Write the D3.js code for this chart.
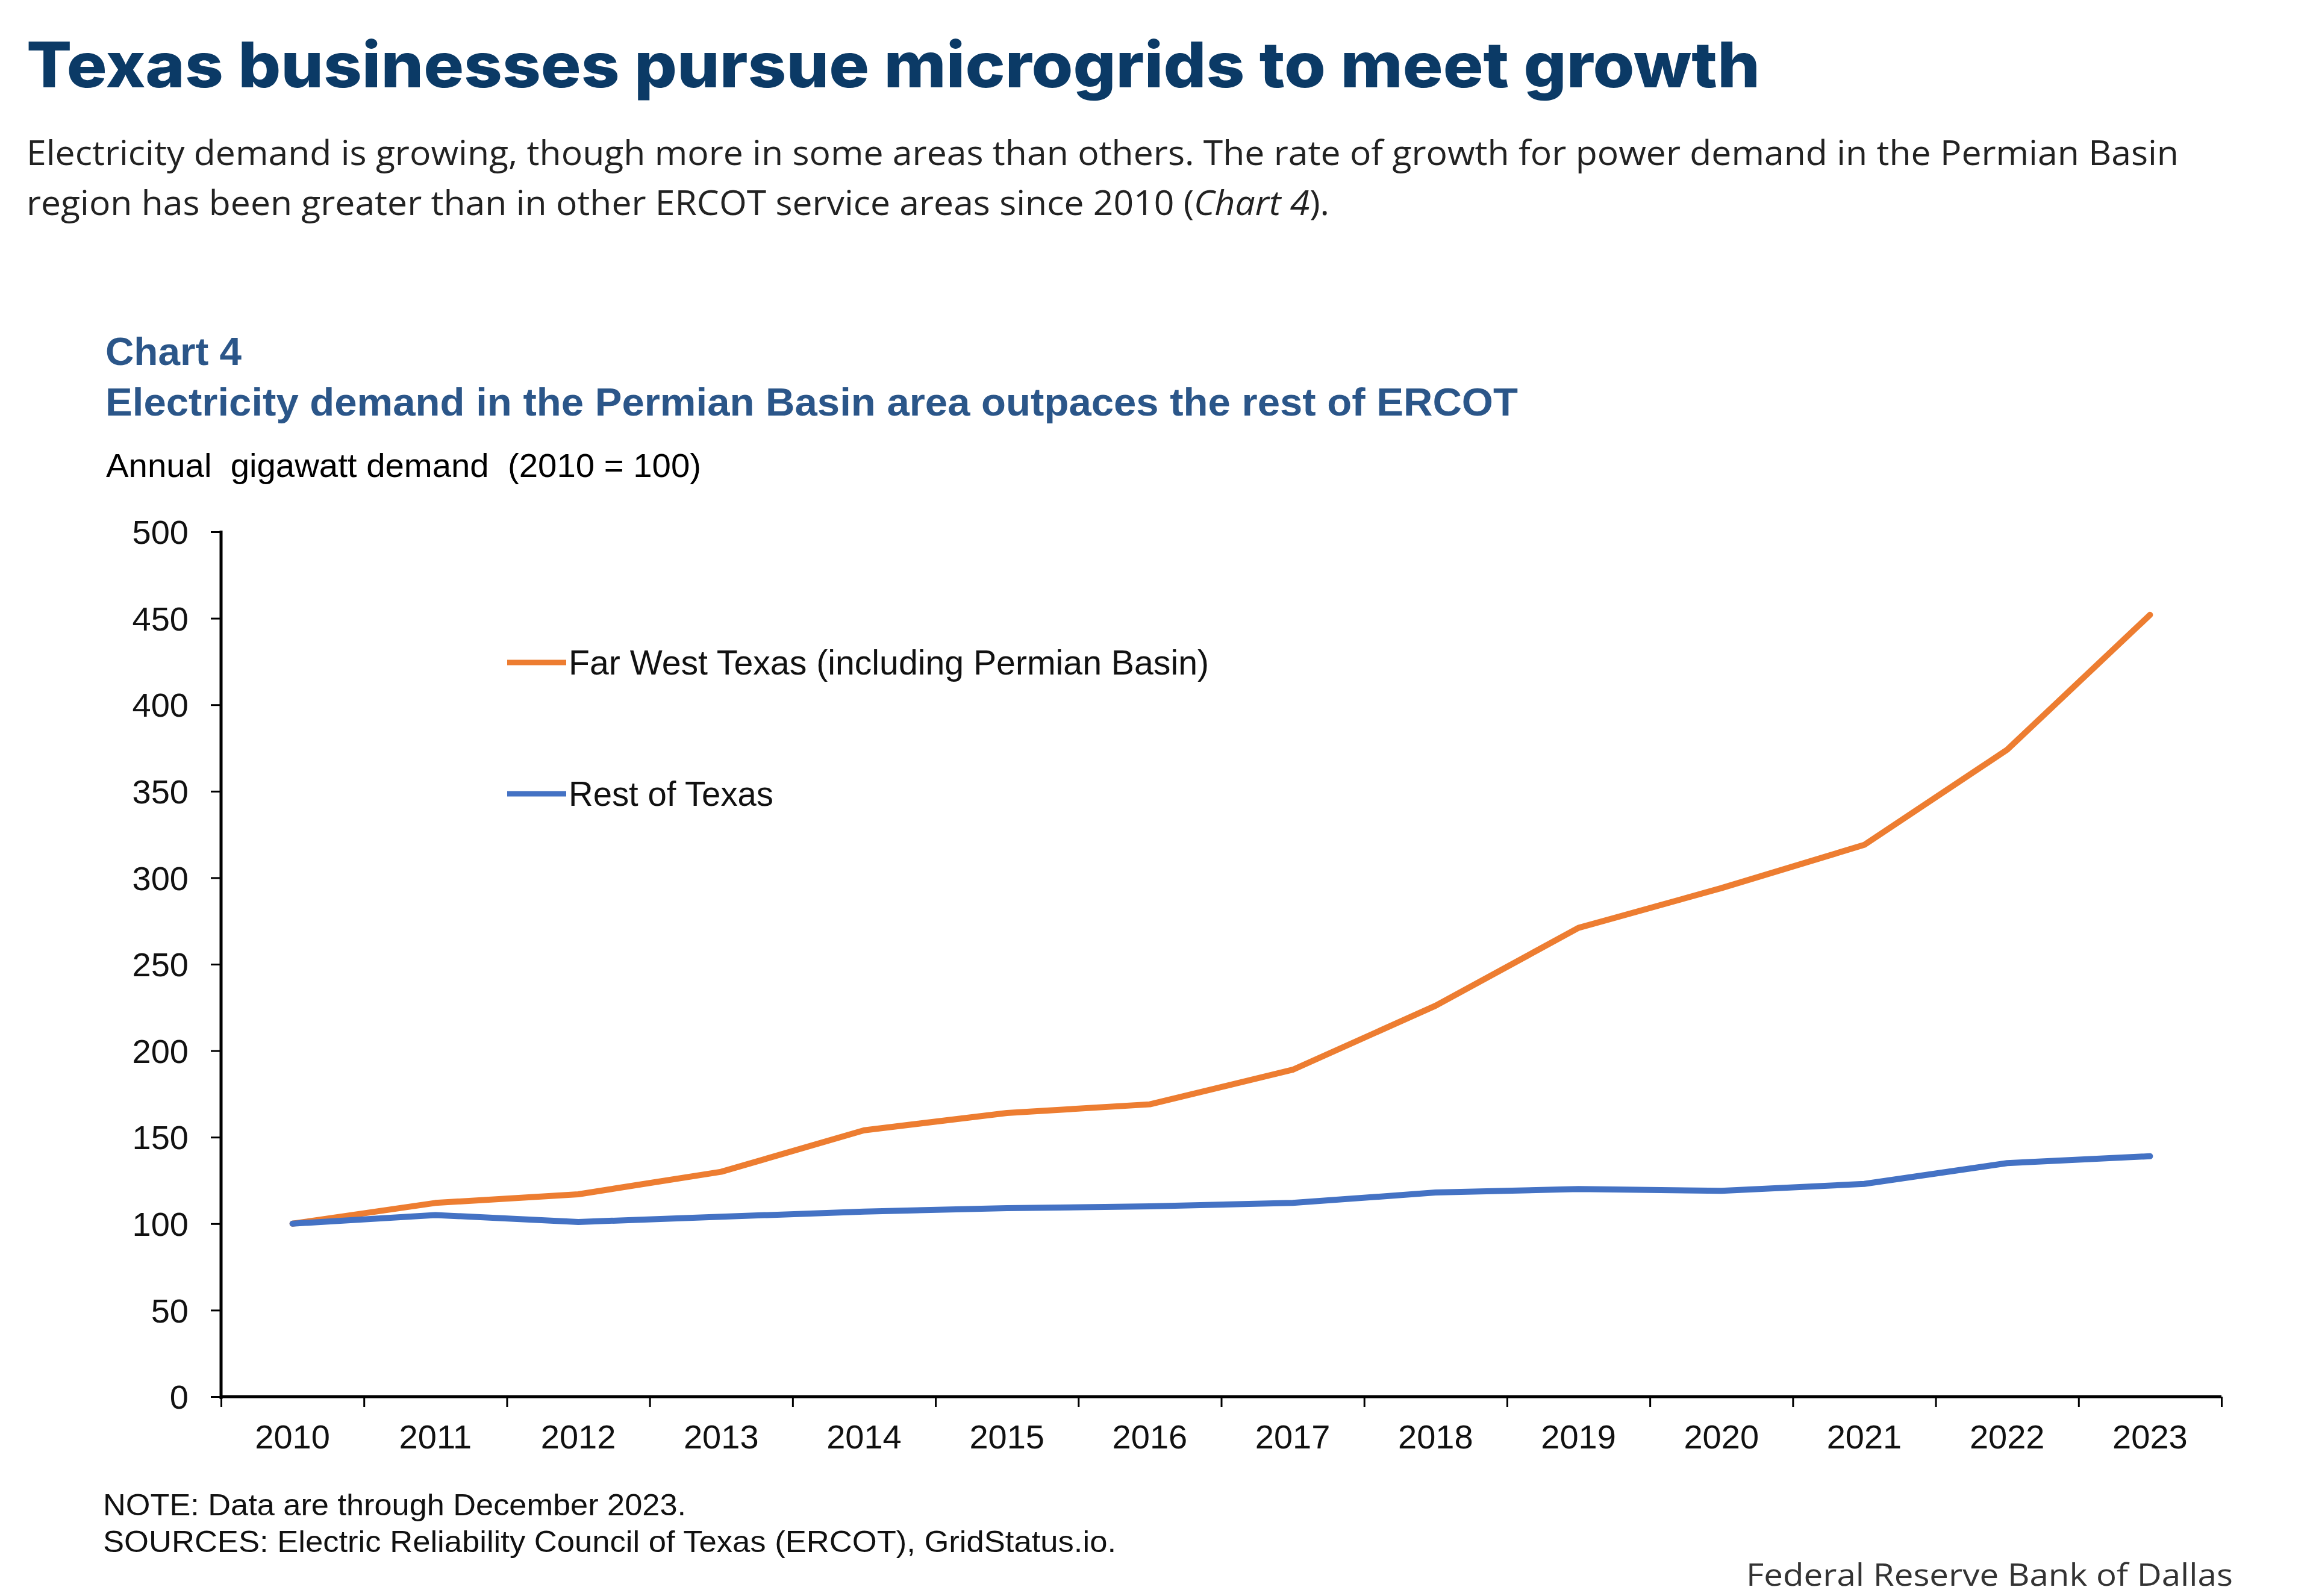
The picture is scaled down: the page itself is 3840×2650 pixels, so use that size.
<!DOCTYPE html>
<html>
<head>
<meta charset="utf-8">
<script src="https://cdn.jsdelivr.net/npm/d3@7"></script>
<style>
  html, body { margin: 0; padding: 0; background: #ffffff; }
  svg { display: block; }
  text { white-space: pre; }
</style>
</head>
<body>
<script>
// ---- Data ----
const years = ["2010","2011","2012","2013","2014","2015","2016","2017","2018","2019","2020","2021","2022","2023"];
const farWest = [100, 112, 117, 130, 154, 164, 169, 189, 226, 271, 294, 319, 374, 452];
const restOfTexas = [100, 105, 101, 104, 107, 109, 110, 112, 118, 120, 119, 123, 135, 139];
const yTicks = [0, 50, 100, 150, 200, 250, 300, 350, 400, 450, 500];
const seriesNames = ["Far West Texas (including Permian Basin)", "Rest of Texas"];
const seriesColors = ["#ED7D31", "#4472C4"];

const W = 3840, H = 2650;
const svg = d3.select("body").append("svg").attr("width", W).attr("height", H);
svg.append("rect").attr("width", W).attr("height", H).attr("fill", "#fff");

function fit(sel, w) {
  const n = sel.node();
  const cur = n.getComputedTextLength();
  if (Math.abs(cur - w) / w > 0.003) sel.attr("textLength", w).attr("lengthAdjust", "spacingAndGlyphs");
  return sel;
}

// ---- Header ----
fit(svg.append("text").attr("x", 44).attr("y", 145)
  .attr("font-family", "Inter, 'Open Sans', sans-serif").attr("font-weight", 800)
  .attr("font-size", 104).attr("fill", "#0B3A66")
  .text("Texas businesses pursue microgrids to meet growth"), 2878);

fit(svg.append("text").attr("x", 44).attr("y", 274)
  .attr("font-family", "'Open Sans', sans-serif").attr("font-size", 57).attr("fill", "#222")
  .text("Electricity demand is growing, though more in some areas than others. The rate of growth for power demand in the Permian Basin"), 3573);

const p2 = svg.append("text").attr("x", 44).attr("y", 357)
  .attr("font-family", "'Open Sans', sans-serif").attr("font-size", 57).attr("fill", "#222");
p2.append("tspan").text("region has been greater than in other ERCOT service areas since 2010 (");
p2.append("tspan").attr("font-style", "italic").text("Chart 4");
p2.append("tspan").text(").");
fit(p2, 2163);

// ---- Chart titles ----
fit(svg.append("text").attr("x", 175).attr("y", 606)
  .attr("font-family", "'Liberation Sans', Arial, sans-serif").attr("font-weight", 700)
  .attr("font-size", 64).attr("fill", "#2B5689").text("Chart 4"), 226);

fit(svg.append("text").attr("x", 175).attr("y", 690)
  .attr("font-family", "'Liberation Sans', Arial, sans-serif").attr("font-weight", 700)
  .attr("font-size", 64).attr("fill", "#2B5689")
  .text("Electricity demand in the Permian Basin area outpaces the rest of ERCOT"), 2345);

fit(svg.append("text").attr("x", 176).attr("y", 792)
  .attr("font-family", "'Liberation Sans', Arial, sans-serif")
  .attr("font-size", 56).attr("fill", "#000")
  .text("Annual  gigawatt demand  (2010 = 100)"), 988);

// ---- Scales ----
const x0 = 367, x1 = 3688, yTop = 883, yBot = 2319;
const x = d3.scaleBand().domain(years).range([x0, x1]).padding(0);
const xEdge = d3.scaleLinear().domain([0, years.length]).range([x0, x1]);
const y = d3.scaleLinear().domain([0, 500]).range([yBot, yTop]);

// Y axis
const yAxis = svg.append("g").attr("transform", `translate(${x0},0)`)
  .call(d3.axisLeft(y).tickValues(yTicks).tickSize(17).tickPadding(37));
yAxis.select(".domain").remove();
yAxis.selectAll(".tick line").attr("stroke", "#000").attr("stroke-width", 3);
yAxis.selectAll(".tick text").attr("font-family", "'Liberation Sans', Arial, sans-serif")
  .attr("font-size", 56).attr("fill", "#111").attr("dy", "0.35em");
svg.append("line").attr("x1", x0).attr("x2", x0).attr("y1", yTop - 2).attr("y2", yBot + 4)
  .attr("stroke", "#000").attr("stroke-width", 5);

// X axis ticks at band edges
const xTickAxis = svg.append("g").attr("transform", `translate(0,${yBot})`)
  .call(d3.axisBottom(xEdge).tickValues(d3.range(years.length + 1)).tickSize(17).tickFormat(""));
xTickAxis.select(".domain").remove();
xTickAxis.selectAll(".tick line").attr("stroke", "#000").attr("stroke-width", 3);
// X labels
const xLab = svg.append("g").attr("transform", `translate(0,${yBot})`)
  .call(d3.axisBottom(x).tickSize(0).tickPadding(46));
xLab.select(".domain").remove();
xLab.selectAll(".tick text").attr("font-family", "'Liberation Sans', Arial, sans-serif")
  .attr("font-size", 56).attr("fill", "#111");
svg.append("line").attr("x1", x0).attr("x2", x1).attr("y1", yBot).attr("y2", yBot)
  .attr("stroke", "#000").attr("stroke-width", 5);

// ---- Lines ----
const line = d3.line().x((d, i) => x(years[i]) + x.bandwidth() / 2).y(d => y(d));
[farWest, restOfTexas].forEach((s, i) => {
  svg.append("path").datum(s).attr("d", line).attr("fill", "none")
    .attr("stroke", seriesColors[i]).attr("stroke-width", 10)
    .attr("stroke-linejoin", "round").attr("stroke-linecap", "round");
});

// ---- Legend ----
const legY = [1100, 1318];
const legW = [1063, 340];
seriesNames.forEach((n, i) => {
  svg.append("line").attr("x1", 842).attr("x2", 940).attr("y1", legY[i]).attr("y2", legY[i])
    .attr("stroke", seriesColors[i]).attr("stroke-width", 9);
  fit(svg.append("text").attr("x", 944).attr("y", legY[i] + 20)
    .attr("font-family", "'Liberation Sans', Arial, sans-serif").attr("font-size", 57)
    .attr("fill", "#111").text(n), legW[i]);
});

// ---- Notes ----
fit(svg.append("text").attr("x", 171).attr("y", 2516)
  .attr("font-family", "'Liberation Sans', Arial, sans-serif").attr("font-size", 50)
  .attr("fill", "#111").text("NOTE: Data are through December 2023."), 968);
fit(svg.append("text").attr("x", 171).attr("y", 2577)
  .attr("font-family", "'Liberation Sans', Arial, sans-serif").attr("font-size", 50)
  .attr("fill", "#111").text("SOURCES: Electric Reliability Council of Texas (ERCOT), GridStatus.io."), 1682);

fit(svg.append("text").attr("x", 3707).attr("y", 2633).attr("text-anchor", "end")
  .attr("font-family", "'Open Sans', sans-serif").attr("font-size", 52)
  .attr("fill", "#333").text("Federal Reserve Bank of Dallas"), 808);
</script>
</body>
</html>
